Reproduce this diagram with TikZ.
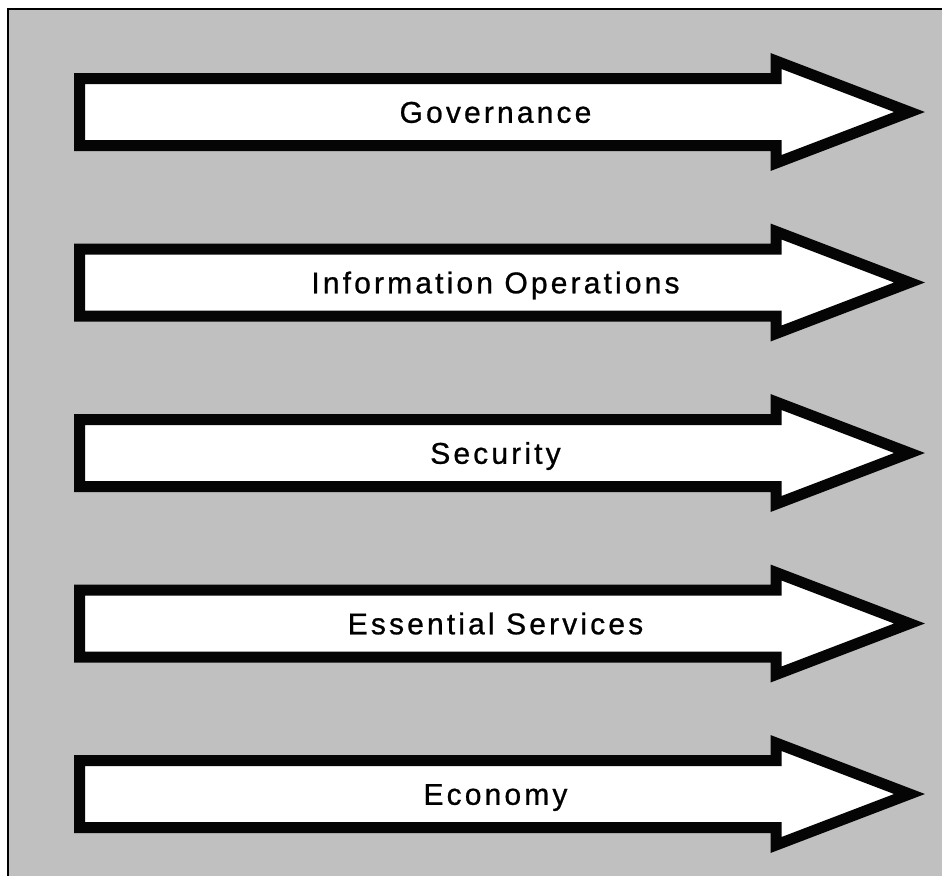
\documentclass[tikz,border=0pt]{standalone}
\usepackage{fontspec}
\usepackage{tikz}
\usetikzlibrary{positioning}

\newfontfamily\bandfont[LetterSpace=10.5, FakeBold=0.8]{Liberation Sans}
\definecolor{panelgray}{HTML}{C0C0C0}

\begin{document}
\begin{tikzpicture}[
    x=0.5pt, y=-0.5pt,
    every node/.style={font=\bandfont\fontsize{15}{18}\selectfont},
    panel/.style={draw=black, fill=panelgray, line width=1pt},
    band/.style={draw=black!98, fill=white, line width=5.5pt, miter limit=10},
    bandlabel/.style={anchor=base, inner sep=0pt, text=black}
]

% Page size
\useasboundingbox (0,0) rectangle (942,875);

% Gray panel (right and bottom edges run off the page)
\draw[panel] (8,9) rectangle (960,895);

% Arrows - one per line of effort
\foreach \name/\txt [count=\i from 0] in {gov/Governance, infoops/Information Operations, sec/Security, ess/Essential Services, econ/Economy} {
    \pgfmathsetmacro{\cy}{112 + 170.5*\i}
    \draw[band] (79.5,\cy-33.5) -- (776,\cy-33.5) -- (776,\cy-51) -- (909.5,\cy)
        -- (776,\cy+51) -- (776,\cy+33.5) -- (79.5,\cy+33.5) -- cycle;
    \node[bandlabel] (\name) at (495.5,\cy+10.75) {\txt};
}

\end{tikzpicture}
\end{document}
